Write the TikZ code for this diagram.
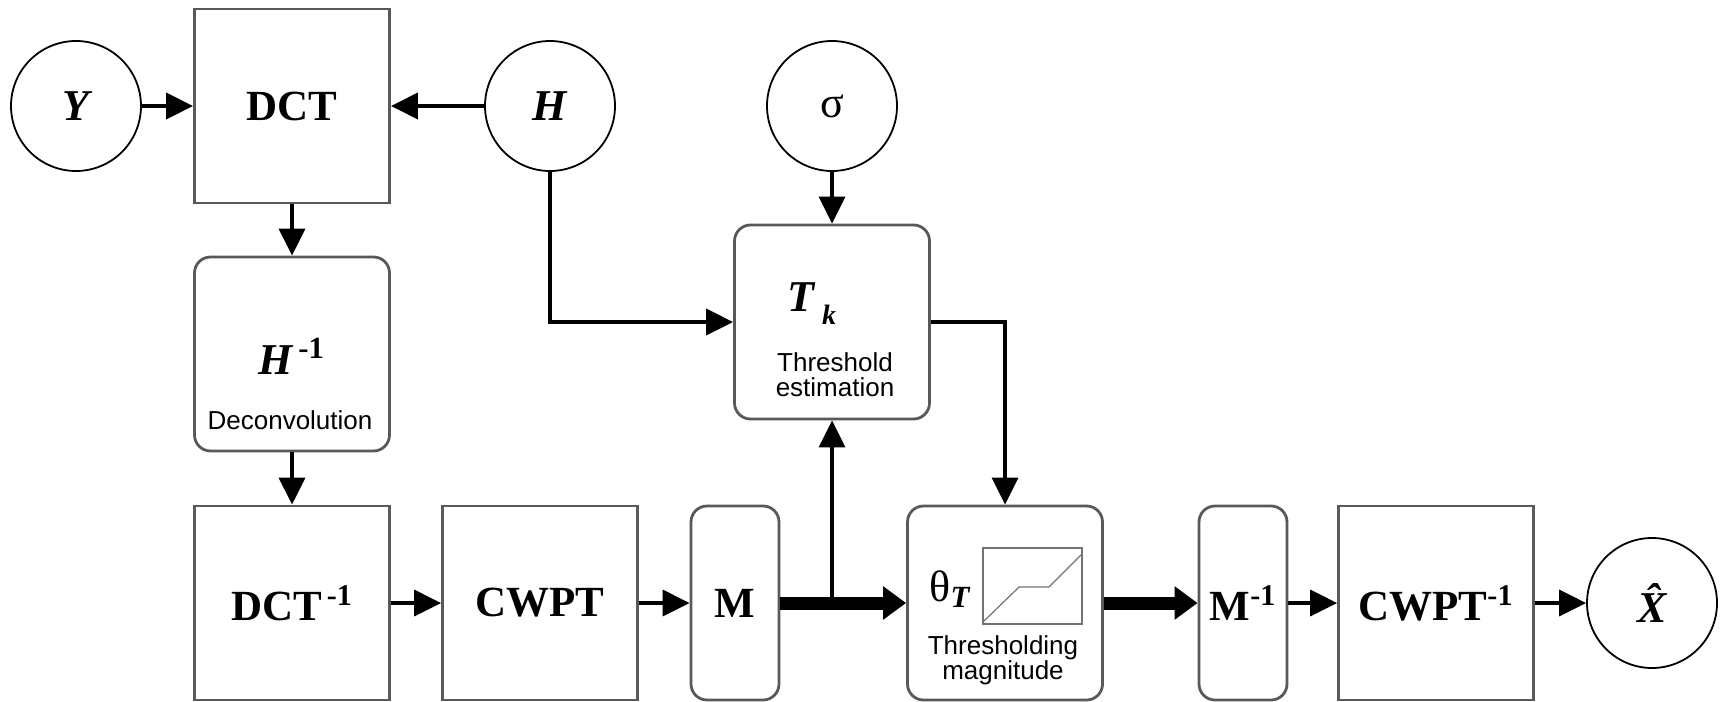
\documentclass[tikz,border=0pt]{standalone}
\usepackage{fontspec}
\setmainfont{Liberation Serif}
\setsansfont{Liberation Sans}
\usetikzlibrary{arrows.meta}

\begin{document}
\begin{tikzpicture}
[x=0.5pt, y=-0.5pt, line width=1.25pt,
blk/.style={rectangle, draw=black!65, line width=1.4pt, minimum width=97.5pt, minimum height=97pt, inner sep=0pt, font=\fontsize{21.5}{24}\selectfont\bfseries},
rblk/.style={blk, rounded corners=8pt},
mblk/.style={rblk, minimum width=44pt},
var/.style={circle, draw, line width=0.9pt, minimum size=65pt, inner sep=0pt, font=\fontsize{22}{24}\selectfont\bfseries\itshape},
sym/.style={inner sep=0pt, font=\fontsize{22}{24}\selectfont\bfseries\itshape},
lbl/.style={inner sep=0pt, align=center, font=\sffamily\fontsize{13}{12.5}\selectfont},
flow/.style={-{Triangle[length=13.5pt,width=13pt]}, line width=1.7pt},
bigflow/.style={-{Triangle[length=11.5pt,width=16pt]}, line width=6.5pt}]

\useasboundingbox (0,0) rectangle (1722,701);

% top row
\node[var] (Y) at (76,106) {Y};
\node[blk] (dct) at (292,106) {DCT};
\node[var] (H) at (550,106) {H};
\node[var, font=\fontsize{22}{24}\selectfont] (sigma) at (832,106) {σ};

% deconvolution and threshold estimation
\node[rblk] (Hinv) at (292,354) {};
\node[sym, anchor=base] (Hinvlbl) at (292,374) {H\textsuperscript{\upshape\,-1}};
\node[lbl] (Hinvtxt) at (290,420) {Deconvolution};

\node[rblk] (Tk) at (832,322) {};
\node[sym, anchor=base] (Tklbl) at (812,311) {T\,\raisebox{-0.3em}{\fontsize{14}{14}\selectfont k}};
\node[lbl] (Tktxt) at (835,375) {Threshold\\estimation};

% bottom row
\node[blk] (idct) at (292,603) {DCT\textsuperscript{\,-1}};
\node[blk] (cwpt) at (540,603) {CWPT};
\node[mblk] (M) at (735,603) {M};
\node[rblk] (theta) at (1005,603) {};
\node[anchor=base, inner sep=0pt, font=\fontsize{22}{24}\selectfont] (thetalbl) at (950,601) {θ\textsubscript{\bfseries\itshape T}};
\draw[black!55, line width=0.6pt] (983,548) rectangle (1082,624);
\draw[black!55, line width=0.6pt] (984,621) -- (1019,587) -- (1049,587) -- (1082,554);
\node[lbl] (thetatxt) at (1003,660) {Thresholding\\magnitude};
\node[mblk] (Minv) at (1243,603) {M\textsuperscript{-1}};
\node[blk] (icwpt) at (1436,603) {CWPT\textsuperscript{-1}};
\node[var] (Xh) at (1652,603) {\^{X}};

% connectors
\draw[flow] (Y) -- (dct);
\draw[flow] (H) -- (dct);
\draw[flow] (dct) -- (Hinv);
\draw[flow] (Hinv) -- (idct);
\draw[flow] (H) |- (Tk);
\draw[flow] (sigma) -- (Tk);
\draw[flow] (Tk.east) -| (theta);
\draw[flow] (idct) -- (cwpt);
\draw[flow] (cwpt) -- (M);
\draw[bigflow] (M) -- (theta);
\coordinate (branch) at (Tk.south |- M.east);
\draw[flow] (branch) -- (Tk);
\draw[bigflow] (theta) -- (Minv);
\draw[flow] (Minv) -- (icwpt);
\draw[flow] (icwpt) -- (Xh);
\end{tikzpicture}
\end{document}
